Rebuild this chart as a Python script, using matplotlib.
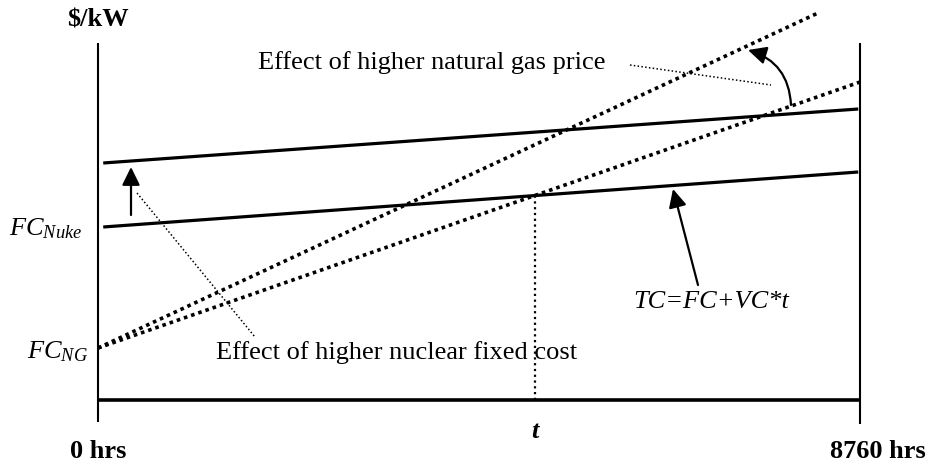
import numpy as np
import matplotlib
matplotlib.use("Agg")
import matplotlib.pyplot as plt

plt.rcParams['font.family'] = ['Liberation Serif', 'DejaVu Serif']
plt.rcParams['mathtext.fontset'] = 'custom'
plt.rcParams['mathtext.rm'] = 'Liberation Serif'
plt.rcParams['mathtext.it'] = 'Liberation Serif:italic'
plt.rcParams['mathtext.bf'] = 'Liberation Serif:bold'

# ---- data (hours of operation vs total cost in $/kW, arbitrary units) ----
hours_full = [0, 8760]
nuke_hours = [60, 8740]
nuke_cost = [173, 228]          # TC nuclear, base fixed cost
nuke_cost_high = [237, 291]     # TC nuclear, higher fixed cost
ng_hours = [0, 8760]
ng_cost = [52, 318]             # TC natural gas, base gas price
ng_hours_high = [0, 8277]
ng_cost_high = [52, 387]        # TC natural gas, higher gas price
x_tick_labels = ["0 hrs", "8760 hrs"]

FS = 19

# ---- figure: axes fill the figure, pixel -> data helpers for annotations ----
W, Hpx = 930, 463
fig = plt.figure(figsize=(W / 100, Hpx / 100), dpi=100)
ax = fig.add_axes([0, 0, 1, 1])
x0px, x1px = 98, 860
def hx(xp):
    return (xp - x0px) * 8760 / (x1px - x0px)
def cy(yp):
    return 400 - yp
ax.set_xlim(hx(0), hx(W))
ax.set_ylim(cy(Hpx), cy(0))
ax.axis('off')

# axes frame
ax.plot([0, 0], [cy(43), cy(422)], color='black', lw=1.5, solid_capstyle='butt')
ax.plot([8760, 8760], [cy(43), cy(424)], color='black', lw=1.5, solid_capstyle='butt')
ax.plot(hours_full, [0, 0], color='black', lw=2.6, solid_capstyle='butt')

# cost lines
ax.plot(nuke_hours, nuke_cost, color='black', lw=2.3, solid_capstyle='butt')
ax.plot(nuke_hours, nuke_cost_high, color='black', lw=2.3, solid_capstyle='butt')
ax.plot(ng_hours, ng_cost, color='black', lw=2.6, linestyle=(0, (1, 1.1)), dash_capstyle='butt')
ax.plot(ng_hours_high, ng_cost_high, color='black', lw=2.6, linestyle=(0, (1, 1.1)), dash_capstyle='butt')

# break-even point t
pn = np.polyfit(nuke_hours, nuke_cost, 1)
pg = np.polyfit(ng_hours, ng_cost, 1)
t_star = (pg[1] - pn[1]) / (pn[0] - pg[0])
c_star = np.polyval(pn, t_star)
ax.plot([t_star, t_star], [0, c_star], color='black', lw=1.6, linestyle=(0, (1, 1.6)))

# text labels
ax.text(0, cy(20), "$/kW", ha='center', va='center', fontsize=FS, fontweight='bold')
ax.text(0, cy(451), x_tick_labels[0], ha='center', va='center', fontsize=FS, fontweight='bold')
ax.text(8760 + hx(878) - hx(860), cy(451), x_tick_labels[1], ha='center', va='center',
        fontsize=FS, fontweight='bold')
ax.text(t_star, cy(431), "t", ha='center', va='center', fontsize=FS,
        fontweight='bold', fontstyle='italic')
ax.text(hx(82), cy(229), r"$FC_{Nuke}$", ha='right', va='center', fontsize=FS)
ax.text(hx(88), cy(352), r"$FC_{NG}$", ha='right', va='center', fontsize=FS)
ax.text(hx(258), cy(63), "Effect of higher natural gas price", ha='left', va='center', fontsize=FS)
ax.text(hx(216), cy(353), "Effect of higher nuclear fixed cost", ha='left', va='center', fontsize=FS)
ax.text(hx(633), cy(302), "TC=FC+VC*t", ha='left', va='center', fontsize=FS, fontstyle='italic')

# leader lines (thin dotted)
ax.plot([hx(630), hx(771)], [cy(65), cy(85)], color='black', lw=1.1, linestyle=(0, (1, 1.5)))
ax.plot([hx(137), hx(255)], [cy(193), cy(337)], color='black', lw=1.1, linestyle=(0, (1, 1.5)))

# arrows
astyle = '-|>,head_length=0.55,head_width=0.27'
ax.annotate("", xy=(hx(131), cy(167)), xytext=(hx(131), cy(215)),
            arrowprops=dict(arrowstyle=astyle, mutation_scale=20, color='black', lw=1.6,
                            shrinkA=0, shrinkB=0))
ax.annotate("", xy=(hx(673), cy(189)), xytext=(hx(698), cy(285)),
            arrowprops=dict(arrowstyle=astyle, mutation_scale=20, color='black', lw=1.6,
                            shrinkA=0, shrinkB=0))
ax.annotate("", xy=(hx(748), cy(50)), xytext=(hx(791), cy(105)),
            arrowprops=dict(arrowstyle=astyle, mutation_scale=20, color='black', lw=1.6,
                            shrinkA=0, shrinkB=0, connectionstyle='arc3,rad=0.35'))

fig.savefig("out.png", dpi=100, facecolor='white')
